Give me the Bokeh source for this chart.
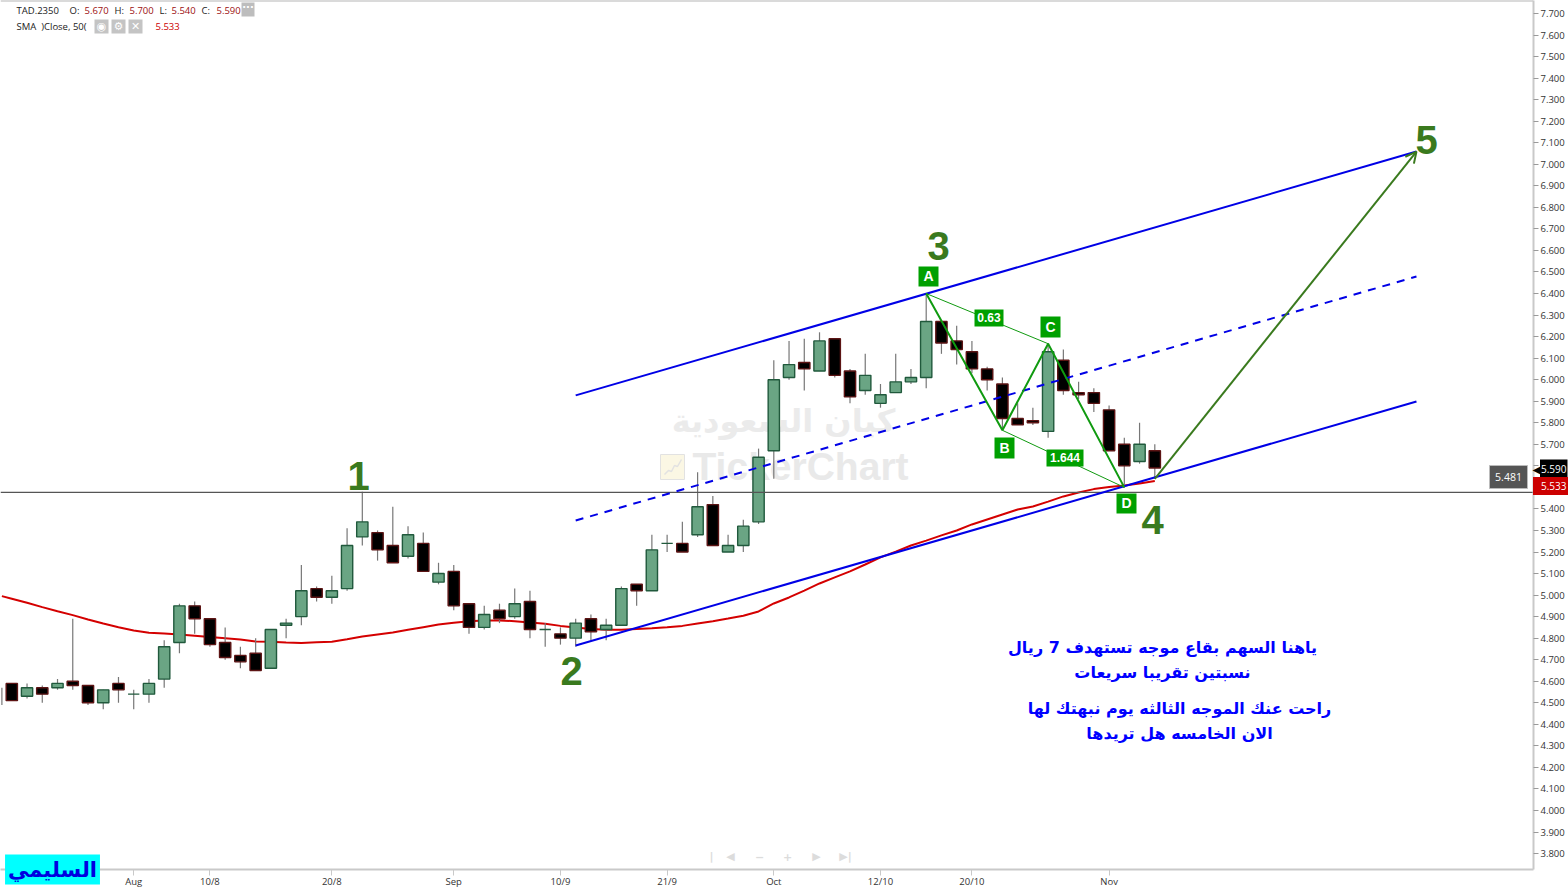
from bokeh.embed import file_html
from bokeh.resources import INLINE
from bokeh.plotting import figure
from bokeh.models import (ColumnDataSource, Label, Arrow, OpenHead,
                          FixedTicker, SingleIntervalTicker, NumeralTickFormatter)

open_vals = [4.59,4.53,4.57,4.57,4.60,4.58,4.50,4.59,4.54,4.54,4.61,4.78,4.95,4.89,4.78,4.72,4.73,4.66,4.86,4.90,
             5.03,4.99,5.03,5.27,5.29,5.23,5.18,5.24,5.06,5.11,4.96,4.85,4.93,4.90,4.97,4.84,4.82,4.80,4.89,4.84,
             4.86,5.05,5.02,5.24,5.24,5.28,5.42,5.20,5.23,5.34,5.67,6.01,6.08,6.04,6.19,6.04,5.95,5.89,5.94,5.99,
             6.01,6.27,6.18,6.13,6.05,5.98,5.82,5.81,5.76,6.09,5.94,5.94,5.86,5.70,5.62,5.67]
high_vals = [4.59,4.59,4.58,4.61,4.89,4.58,4.56,4.62,4.56,4.61,4.79,4.96,4.97,4.89,4.85,4.76,4.80,4.84,4.89,5.14,
             5.04,5.09,5.31,5.48,5.30,5.41,5.32,5.29,5.15,5.14,4.96,4.95,4.96,5.03,5.02,4.87,4.85,4.89,4.91,4.89,
             5.04,5.05,5.28,5.28,5.34,5.57,5.46,5.28,5.35,5.68,6.09,6.18,6.19,6.22,6.19,6.05,6.12,5.98,6.12,6.05,
             6.40,6.27,6.25,6.18,6.06,6.01,5.89,5.87,6.17,6.14,5.99,5.96,5.88,5.73,5.80,5.70]
low_vals = [4.51,4.52,4.50,4.56,4.56,4.49,4.47,4.50,4.47,4.50,4.57,4.73,4.82,4.76,4.70,4.66,4.65,4.66,4.80,4.86,
            4.97,4.96,5.02,5.23,5.16,5.15,5.17,5.11,5.05,4.93,4.82,4.84,4.87,4.89,4.80,4.76,4.77,4.76,4.79,4.79,
            4.86,4.95,5.02,5.20,5.20,5.27,5.23,5.20,5.20,5.33,5.54,6.00,5.95,6.04,6.01,5.89,5.93,5.87,5.94,5.98,
            5.96,6.12,6.07,6.03,5.95,5.77,5.79,5.79,5.73,5.93,5.91,5.85,5.67,5.50,5.61,5.54]
close_vals = [4.51,4.57,4.54,4.59,4.58,4.50,4.56,4.56,4.54,4.59,4.76,4.95,4.89,4.77,4.71,4.69,4.65,4.84,4.87,5.02,
              4.99,5.02,5.23,5.34,5.21,5.15,5.28,5.11,5.10,4.95,4.85,4.91,4.89,4.96,4.84,4.84,4.80,4.87,4.83,4.86,
              5.03,5.02,5.21,5.24,5.20,5.41,5.23,5.23,5.32,5.64,6.00,6.07,6.05,6.18,6.02,5.92,6.02,5.93,5.99,6.01,
              6.27,6.17,6.14,6.05,6.00,5.82,5.79,5.80,6.13,5.95,5.93,5.89,5.67,5.60,5.70,5.59]
sma_vals = [4.983,4.964,4.944,4.925,4.907,4.887,4.868,4.851,4.836,4.825,4.822,4.817,4.811,4.805,4.800,4.794,4.785,4.783,4.780,4.778,
            4.781,4.783,4.795,4.808,4.817,4.826,4.839,4.851,4.863,4.871,4.879,4.882,4.882,4.879,4.873,4.867,4.857,4.850,4.842,4.839,
            4.839,4.842,4.846,4.851,4.857,4.868,4.879,4.891,4.904,4.924,4.961,4.989,5.021,5.054,5.082,5.110,5.142,5.175,5.202,5.230,
            5.253,5.277,5.300,5.328,5.351,5.374,5.397,5.411,5.434,5.458,5.476,5.492,5.502,5.509,5.518,5.530]
sma_start = (-0.65, 4.995)
stub_wick = (-0.65, 4.57, 4.49)
logo_x = [664, 668, 671, 674, 677, 681]
logo_y = [474, 470, 471, 465, 466, 459]

tick_index = [8, 13, 21, 29, 36, 43, 50, 57, 63, 72]
tick_text = ["Aug", "10/8", "20/8", "Sep", "10/9", "21/9", "Oct", "12/10", "20/10", "Nov"]

channel_x = [37.0, 92.17]
channel_upper = [5.927, 7.059]
channel_mid = [5.346, 6.479]
channel_lower = [4.766, 5.899]
wave_x = [75, 92.17]
wave_y = [5.54, 7.059]
abcd_x = [60, 65, 68, 73]
abcd_y = [6.40, 5.765, 6.167, 5.50]
hline_price = 5.477

C_UP, C_UP_L = "#6aa584", "#20593c"
C_DN, C_DN_L = "#000000", "#5c1414"
BLUE, WAVE, PAT = "#0000e6", "#3a7a1e", "#109a10"

# layout of the picture (page pixels)
FRAME_W, FRAME_H = 1533, 869
PX0, DPX, PY0, DPY = 11.3, 15.24, 13.0, 215.4
def X(px): return (px - PX0) / DPX
def Y(py): return 7.7 - (py - PY0) / DPY

p = figure(width=1568, height=891, frame_width=FRAME_W, frame_height=FRAME_H,
           x_range=(X(0), X(FRAME_W)), y_range=(Y(FRAME_H), Y(0)),
           output_backend="svg", toolbar_location=None, y_axis_location="right",
           min_border_left=0, min_border_top=0, min_border_right=35, min_border_bottom=22,
           outline_line_color=None, background_fill_color="white")
p.grid.visible = False

AX = "#c9c9c9"
ya = p.yaxis[0]
ya.ticker = SingleIntervalTicker(interval=0.1, num_minor_ticks=0)
ya.formatter = NumeralTickFormatter(format="0.000")
ya.axis_line_color = AX; ya.axis_line_width = 2
ya.major_tick_line_color = "#9a9a9a"; ya.major_tick_out = 5; ya.major_tick_in = 0
ya.minor_tick_line_color = None
ya.major_label_text_font = "Open Sans"; ya.major_label_text_font_size = "9.5px"
ya.major_label_text_color = "#333333"; ya.major_label_standoff = 2
xa = p.xaxis[0]
xa.ticker = FixedTicker(ticks=tick_index)
xa.major_label_overrides = dict(zip(tick_index, tick_text))
xa.axis_line_color = AX; xa.axis_line_width = 2
xa.major_tick_line_color = "#c9c9c9"; xa.major_tick_out = 6; xa.major_tick_in = 0
xa.minor_tick_line_color = None
xa.major_label_text_font = "Open Sans"; xa.major_label_text_font_size = "9.5px"
xa.major_label_text_color = "#333333"; xa.major_label_standoff = -1


def box(x0, y0, x1, y1, fill, line=None, level="glyph"):
    p.quad(left=[X(x0)], right=[X(x1)], top=[Y(y0)], bottom=[Y(y1)],
           fill_color=fill, line_color=line, level=level)

def txt(px, py, s, size, color, font="Open Sans", bold=False, align="center", level="annotation", **kw):
    p.add_layout(Label(x=X(px), y=Y(py), text=s, text_font=font, text_font_size=f"{size}px",
                       text_color=color, text_align=align, text_baseline="middle",
                       text_font_style="bold" if bold else "normal", level=level, **kw))

def panel_txt(side, px, py, s, size, color, font="Open Sans", bold=False, align="center", **kw):
    # outside the frame: a label that lives in a side panel (only those are not clipped to the frame)
    p.add_layout(Label(x=X(px), y=Y(py), text=s, text_font=font,
                       text_font_size=f"{size}px", text_color=color, text_align=align, text_baseline="middle",
                       text_font_style="bold" if bold else "normal", **kw), side)

panel_txt("below", 52, 869, "السليمي", 21, "#0000e0", font="DejaVu Sans", bold=True,
          background_fill_color="#00ffff", padding=3)
panel_txt("right", 1540, 468, "◀", 21, "black", font="DejaVu Sans")
panel_txt("right", 1567, 468, "5.590", 10, "white", align="right", background_fill_color="black", padding=(1, 5))
panel_txt("right", 1574, 485.5, "5.533", 10, "white", align="right", background_fill_color="#cc0000", padding=(8, 5))

# watermark
txt(783, 420, "كيان السعودية", 32, "#ebebeb", font="DejaVu Sans", bold=True, level="underlay")
txt(692, 466, "TickerChart", 39, "#e9e9e9", font="Liberation Sans", bold=True, align="left", level="underlay")
box(660, 454, 684, 479, "#fbf7e4", "#e2e2e2", level="underlay")
p.line([X(v) for v in logo_x], [Y(v) for v in logo_y], line_color="#e2e2e2", line_width=1.5, level="underlay")

# SMA
p.line([sma_start[0]] + list(range(len(sma_vals))), [sma_start[1]] + sma_vals, line_color="#d40000", line_width=2)

# candles
idx = list(range(len(open_vals)))
src = ColumnDataSource(dict(x=idx, o=open_vals, h=high_vals, l=low_vals, c=close_vals,
                            fill=[C_UP if c >= o else C_DN for o, c in zip(open_vals, close_vals)],
                            edge=[C_UP_L if c >= o else C_DN_L for o, c in zip(open_vals, close_vals)]))
p.segment(x0="x", y0="h", x1="x", y1="l", source=src, line_color="#777777", line_width=1.2)
p.segment([stub_wick[0]], [stub_wick[1]], [stub_wick[0]], [stub_wick[2]], line_color="#777777", line_width=1.2)
p.vbar(x="x", width=0.74, top="o", bottom="c", source=src, fill_color="fill", line_color="edge", line_width=1.4)

# horizontal level and top border
p.line([X(0), X(FRAME_W)], [hline_price, hline_price], line_color="#555555", line_width=1.2)
p.line([X(0), X(FRAME_W)], [Y(0), Y(0)], line_color="#b5b5b5", line_width=2)

# channel
p.line(channel_x, channel_upper, line_color=BLUE, line_width=2)
p.line(channel_x, channel_mid, line_color=BLUE, line_width=2, line_dash="8 7")
p.line(channel_x, channel_lower, line_color=BLUE, line_width=2)

# ABCD pattern
p.line(abcd_x, abcd_y, line_color=PAT, line_width=2)
p.line([abcd_x[0], abcd_x[2]], [abcd_y[0], abcd_y[2]], line_color=PAT, line_width=1)
p.line([abcd_x[1], abcd_x[3]], [abcd_y[1], abcd_y[3]], line_color=PAT, line_width=1)

# pattern tags
GR = "#00a000"
for x0, y0, x1, y1, s, sz in [(918, 266, 938, 286, "A", 14), (994, 437, 1014, 458, "B", 14),
                              (1040, 316, 1060, 337, "C", 14), (1116, 493, 1136, 513, "D", 14),
                              (974, 309, 1003, 326, "0.63", 12), (1046, 449, 1083, 466, "1.644", 12)]:
    box(x0, y0, x1, y1, GR)
    txt((x0 + x1) / 2, (y0 + y1) / 2 - 0.5, s, sz, "white", font="Liberation Sans", bold=True)

# wave numbers
for px, py, s in [(358, 475, "1"), (571, 670, "2"), (938, 245, "3"), (1152, 519, "4"), (1426, 139.5, "5")]:
    txt(px, py, s, 40, WAVE, font="Liberation Sans", bold=True)

# Arabic comment
for px, py, s in [(1162, 647, "ياهنا السهم بقاع موجه تستهدف 7 ريال"),
                  (1162, 672, "نسبتين تقريبا سريعات"),
                  (1179, 708, "راحت عنك الموجه الثالثه يوم نبهتك لها"),
                  (1179, 733, "الان الخامسه هل تريدها")]:
    txt(px, py, s, 16, "#0000ff", font="DejaVu Sans", bold=True)

# header
for px, s, col in [(16, "TAD.2350", "#222222"), (69, "O:", "#222222"), (84, "5.670", "#9c1010"),
                   (114, "H:", "#222222"), (129, "5.700", "#9c1010"), (159, "L:", "#222222"),
                   (171, "5.540", "#9c1010"), (201, "C:", "#222222"), (216, "5.590", "#9c1010")]:
    txt(px, 10, s, 9.5, col, align="left")
txt(16, 26, "SMA\u00a0\u00a0)Close, 50(", 9.5, "#222222", align="left")
txt(155, 26, "5.533", 9.5, "#cc0000", align="left")
box(241, 2, 254, 16, "#bdbdbd")
txt(247.5, 7, "···", 10, "white", font="DejaVu Sans", bold=True)
for x0, s in [(94, "◉"), (111, "⚙"), (128, "✕")]:
    box(x0, 19, x0 + 14, 33, "#c4c4c4")
    txt(x0 + 7, 26, s, 11, "white", font="DejaVu Sans", bold=True)

# navigation glyphs
for px, s in [(711, "|"), (730, "◀"), (759, "−"), (787, "+"), (816, "▶"), (845, "▶|")]:
    txt(px, 856, s, 11, "#dcdcdc", font="DejaVu Sans", bold=True)

# level tag
box(1489, 465, 1527, 488, "#555555", "#bbbbbb")
txt(1508, 476.5, "5.481", 10.5, "white")

# wave arrow
p.add_layout(Arrow(end=OpenHead(size=11, line_color=WAVE, line_width=2), x_start=wave_x[0], y_start=wave_y[0],
                   x_end=wave_x[1], y_end=wave_y[1], line_color=WAVE, line_width=2))

open("out.html", "w").write(file_html(p, INLINE))
